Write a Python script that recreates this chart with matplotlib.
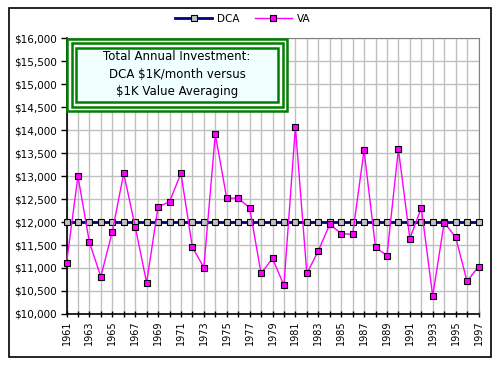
import matplotlib
matplotlib.use("Agg")
from matplotlib import pyplot as plt
from matplotlib.patches import Rectangle
from matplotlib.ticker import FuncFormatter, MultipleLocator, FixedLocator
import numpy as np

# data
years = list(range(1961, 1998))
dca = [12000] * len(years)
va = [11100, 13000, 11560, 10810, 11790, 13060, 11900, 10680, 12330, 12440,
      13060, 11450, 11010, 13910, 12520, 12520, 12310, 10880, 11210, 10620,
      14070, 10880, 11370, 11950, 11750, 11730, 13560, 11450, 11270, 13590,
      11640, 12310, 10390, 11990, 11670, 10710, 11030]
label_years = years[::2]

box_lines = ["Total Annual Investment:", "DCA $1K/month versus", "$1K Value Averaging"]

plt.rcParams['font.family'] = ['DejaVu Sans']

fig = plt.figure(figsize=(5.0, 3.65), dpi=100)
ax = fig.add_axes([0.133, 0.140, 0.824, 0.755])

ax.plot(years, dca, color="#000080", lw=2, marker="s", ms=5,
        mfc="#c0c0c0", mec="black", mew=0.8, label="DCA", clip_on=False, zorder=3)
ax.plot(years, va, color="#ff00ff", lw=1, marker="s", ms=5,
        mfc="#ff00ff", mec="black", mew=0.8, label="VA", clip_on=False, zorder=4)

ax.set_xlim(1961, 1997)
ax.set_ylim(10000, 16000)
ax.xaxis.set_major_locator(FixedLocator(label_years))
ax.xaxis.set_minor_locator(MultipleLocator(1))
ax.yaxis.set_major_locator(MultipleLocator(500))
ax.yaxis.set_major_formatter(FuncFormatter(lambda v, p: "${:,.0f}".format(v)))
ax.xaxis.set_major_formatter(FuncFormatter(lambda v, p: "%d" % v))
ax.grid(True, which="both", color="#c0c0c0", lw=1)
ax.set_axisbelow(True)
ax.tick_params(axis="x", which="both", direction="inout", length=5, width=1, labelsize=7,
               labelrotation=90, pad=2)
ax.tick_params(axis="y", direction="out", length=4, width=1, labelsize=7.5, pad=3)
for side in ["top", "right"]:
    ax.spines[side].set_color("#808080")
for side in ["left", "bottom"]:
    ax.spines[side].set_color("black")
    ax.spines[side].set_linewidth(1.2)

fig.legend(loc="center", bbox_to_anchor=(0.486, 0.948), ncol=2, frameon=False,
           fontsize=7.5, handlelength=3.5, columnspacing=1.5, handletextpad=0.5)

# text box with triple green border
W, H = 500.0, 365.0
def frect(x0, y0, x1, y1, **kw):
    fig.patches.append(Rectangle((x0 / W, 1 - y1 / H), (x1 - x0) / W, (y1 - y0) / H,
                                 transform=fig.transFigure, **kw))

frect(67, 39, 287, 111, facecolor="white", edgecolor="green", lw=1.8, zorder=5)
frect(71.5, 43.5, 282.5, 106.5, facecolor="none", edgecolor="green", lw=1.8, zorder=5)
frect(76, 48, 278, 102, facecolor="#f0ffff", edgecolor="green", lw=1.8, zorder=5)
for i, t in enumerate(box_lines):
    fig.text(177 / W, 1 - (57 + i * 17) / H, t, ha="center", va="center",
             fontsize=8.5, zorder=6)

# outer frame
fig.patches.append(Rectangle((8.5 / W, 1 - 356.5 / H), 482 / W, 349 / H,
                             transform=fig.transFigure, facecolor="none",
                             edgecolor="black", lw=1.2))

fig.savefig("out.png", dpi=100)
